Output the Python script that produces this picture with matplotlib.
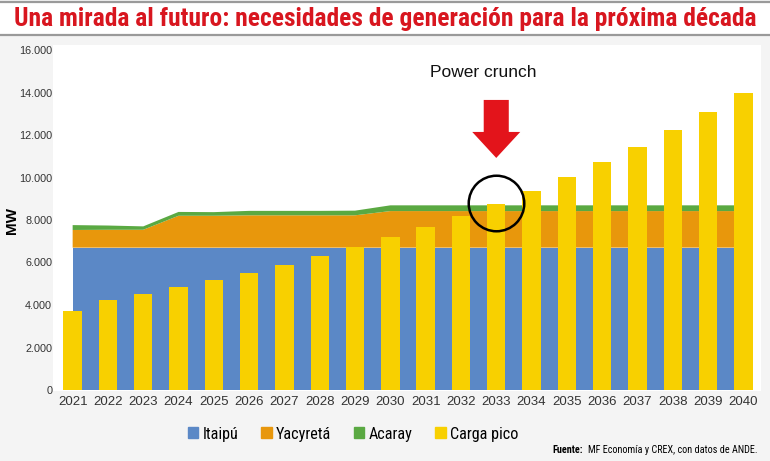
import numpy as np
import matplotlib
matplotlib.use("Agg")
import matplotlib.pyplot as plt
from matplotlib import font_manager
from matplotlib.patches import Rectangle, FancyArrow, Patch

# data (MW)
years = [str(y) for y in range(2021, 2041)]
itaipu = [6700] * 20
yacyreta = [830, 840, 840, 1500, 1500, 1520, 1520, 1520, 1520, 1720,
            1720, 1720, 1720, 1720, 1720, 1720, 1720, 1720, 1720, 1720]
acaray = [230, 200, 160, 180, 170, 210, 210, 210, 220, 270,
          270, 270, 270, 270, 270, 270, 270, 270, 270, 270]
carga_pico = [3730, 4240, 4520, 4830, 5180, 5520, 5900, 6310, 6720, 7190,
              7690, 8200, 8770, 9380, 10040, 10710, 11450, 12240, 13070, 13960]
labels = ["Itaipú", "Yacyretá", "Acaray", "Carga pico"]
yticks = list(range(0, 16001, 2000))
crunch_year = "2033"

C_BLUE, C_ORANGE, C_GREEN, C_YELLOW = "#5b88c6", "#e8970c", "#5aa942", "#f8d000"
RED = "#d8161f"

# pick a narrow face if one is installed
names = {f.name for f in font_manager.fontManager.ttflist}
cond = [f for f in font_manager.fontManager.ttflist if f.stretch in ("condensed", 75, "semi-condensed")]
NARROW_FAM, STRETCH = "DejaVu Sans", "normal"
for n in ("Liberation Sans Narrow", "Arial Narrow", "Roboto Condensed", "Open Sans Condensed"):
    if n in names:
        NARROW_FAM = n
        break
else:
    if cond:
        NARROW_FAM, STRETCH = cond[0].name, "condensed"
plt.rcParams["font.family"] = ["Liberation Sans", "DejaVu Sans"]

W, H = 770, 461
fig = plt.figure(figsize=(W / 100, H / 100), dpi=100, facecolor="#f4f4f4")
px = lambda x0, y0, w, h: [x0 / W, 1 - (y0 + h) / H, w / W, h / H]
rend = fig.canvas.get_renderer()

def fit(t, target_w):
    # shrink/grow font so the text spans the reference width
    w = t.get_window_extent(rend).width
    t.set_fontsize(t.get_fontsize() * target_w / w)

# title band
fig.patches.append(Rectangle((0, 1 - 35 / H), 1, 32 / H, transform=fig.transFigure,
                             facecolor="white", edgecolor="none", zorder=-2))
for yy in (2, 35):
    fig.add_artist(plt.Line2D([0, 1], [1 - yy / H] * 2, color="#9a9a9a", lw=1.6))
title = fig.text(0.5, 1 - 19 / H, "Una mirada al futuro: necesidades de generación para la próxima década",
                 ha="center", va="center", color=RED, fontsize=17, fontweight="bold",
                 family=NARROW_FAM, fontstretch=STRETCH)
fit(title, 743)

# white chart area
fig.patches.append(Rectangle((53 / W, 1 - 391 / H), 708 / W, 346 / H, transform=fig.transFigure,
                             facecolor="white", edgecolor="none", zorder=-2))

ax = fig.add_axes(px(55, 50, 706, 340))
ax.set_facecolor("white")
x = np.arange(len(years))
ax.stackplot(x, itaipu, yacyreta, acaray, colors=[C_BLUE, C_ORANGE, C_GREEN], zorder=1)
ax.bar(x, carga_pico, width=0.52, color=C_YELLOW, zorder=3)

ax.set_xlim(-0.5, len(years) - 0.5)
ax.set_ylim(0, 16000)
ax.set_xticks(x, years)
ax.set_yticks(yticks, [f"{v:,}".replace(",", ".") for v in yticks])
ax.tick_params(length=0, colors="#333333")
ax.tick_params(axis="y", pad=2, labelsize=7.8)
ax.tick_params(axis="x", pad=4, labelsize=9.5)
for s in ax.spines.values():
    s.set_visible(False)
ax.set_ylabel("MW", fontsize=11, fontweight="bold")
ax.yaxis.set_label_coords(-36 / 706, 0.5)

# annotation: power crunch
i = years.index(crunch_year)
ax.plot(i, carga_pico[i] + 30, "o", ms=40, mfc="none", mec="black", mew=1.8, zorder=5)
ax.add_patch(FancyArrow(i, 13650, 0, -2730, width=0.71, head_width=1.36, head_length=1224,
                        length_includes_head=True, color="#e3141b", lw=0, zorder=5))
ax.text(i - 0.38, 14960, "Power crunch", ha="center", va="center", fontsize=12.5, color="#111111")

# legend, font sized so "Carga pico" is as wide as in the reference
handles = [Patch(color=c) for c in (C_BLUE, C_ORANGE, C_GREEN, C_YELLOW)]
def make_legend(size):
    return fig.legend(handles, labels, ncol=4, frameon=False,
                      loc="center", bbox_to_anchor=(353 / W, 1 - 434 / H), handlelength=0.65,
                      handleheight=0.65, handletextpad=0.25, columnspacing=23 / (size * 1.389),
                      prop={"family": NARROW_FAM, "stretch": STRETCH, "size": size})
leg = make_legend(11)
fig.canvas.draw()
size = 11 * 68 / leg.get_texts()[3].get_window_extent(rend).width
leg.remove()
leg = make_legend(size)

src = fig.text(757 / W, 1 - 450 / H, "MF Economía y CREX, con datos de ANDE.", ha="right", va="center",
               fontsize=7, family=NARROW_FAM, fontstretch=STRETCH)
fit(src, 170)
x0 = src.get_window_extent(rend).x0
fig.text((x0 - 5) / W, 1 - 450 / H, "Fuente:", ha="right", va="center", fontsize=src.get_fontsize(),
         fontweight="bold", family=NARROW_FAM, fontstretch=STRETCH)

fig.savefig("out.png", dpi=100, facecolor=fig.get_facecolor())
